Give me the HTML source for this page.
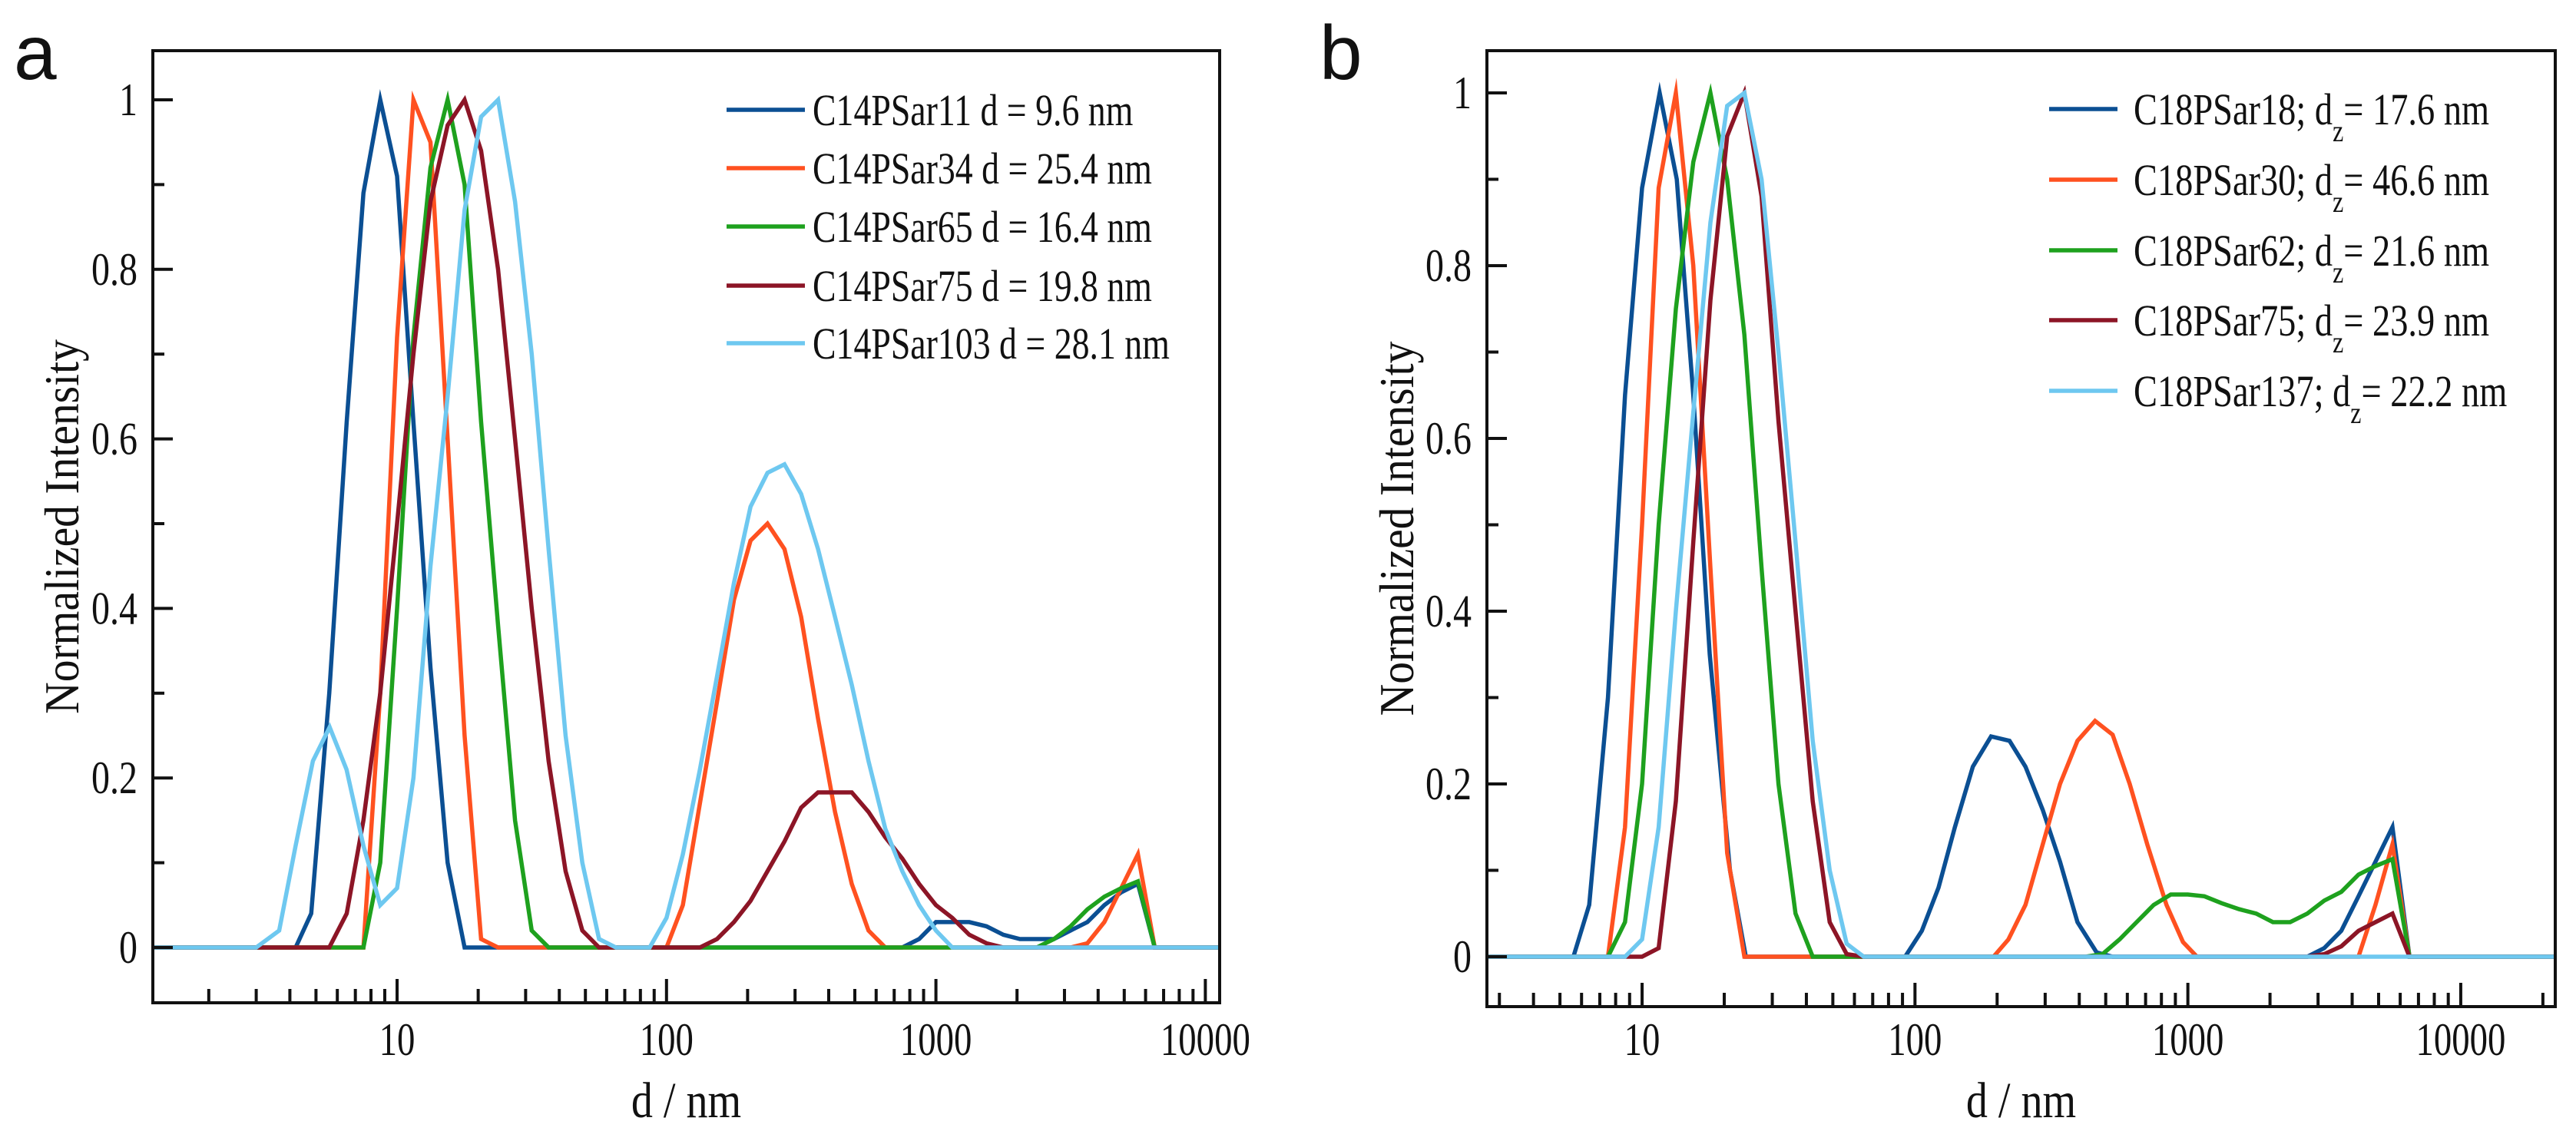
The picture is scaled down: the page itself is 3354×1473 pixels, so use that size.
<!DOCTYPE html>
<html><head><meta charset="utf-8"><style>
html,body{margin:0;padding:0;background:#fff;}
svg{display:block;}
text{font-family:"Liberation Serif",serif;fill:#111;}
text.sans{font-family:"Liberation Sans",sans-serif;}
</style></head><body>
<svg id="fig" width="3354" height="1473" viewBox="0 0 3354 1473" xmlns="http://www.w3.org/2000/svg"></svg>
<script>
// ---------- Panel a data ----------
const aBlueD=[1.2,4.2,4.8,5.6,6.5,7.5,8.66,10,11.5,13.3,15.4,17.8,750,866,1000,1150,1330,1540,1780,2050,2370,2740,3160,3650,4220,4870,5620,6490,11300];
const aBlueY=[0,0,0.04,0.3,0.62,0.89,1,0.91,0.62,0.33,0.1,0,0,0.01,0.03,0.03,0.03,0.025,0.015,0.01,0.01,0.01,0.02,0.03,0.05,0.065,0.075,0,0];
const aOrangeD=[1.2,7.5,8.66,10,11.5,13.3,15.4,17.8,20.5,23.7,100,115,133,154,178,205,237,274,316,365,422,487,562,649,3160,3650,4220,4870,5620,6490,11300];
const aOrangeY=[0,0,0.3,0.72,1,0.95,0.6,0.25,0.01,0,0,0.05,0.17,0.29,0.41,0.48,0.5,0.47,0.39,0.27,0.16,0.075,0.02,0,0,0.005,0.03,0.07,0.11,0,0];
const aGreenD=[1.2,7.5,8.66,10,11.5,13.3,15.4,17.8,20.5,23.7,27.4,31.6,36.5,2370,2740,3160,3650,4220,4870,5620,6490,11300];
const aGreenY=[0,0,0.1,0.4,0.72,0.92,1,0.9,0.62,0.38,0.15,0.02,0,0,0.01,0.025,0.045,0.06,0.07,0.078,0,0];
const aRedD=[1.2,5.6,6.5,7.5,8.66,10,11.5,13.3,15.4,17.8,20.5,23.7,27.4,31.6,36.5,42.2,48.7,56.2,133,154,178,205,237,274,316,365,422,487,562,649,750,866,1000,1150,1330,1540,1780,11300];
const aRedY=[0,0,0.04,0.15,0.3,0.5,0.7,0.88,0.97,1,0.94,0.8,0.6,0.4,0.22,0.09,0.02,0,0,0.01,0.03,0.055,0.09,0.125,0.165,0.183,0.183,0.183,0.16,0.13,0.105,0.075,0.05,0.035,0.015,0.005,0,0];
const aLightD=[1.2,3.0,3.65,4.2,4.87,5.62,6.49,7.5,8.66,10,11.5,13.3,15.4,17.8,20.5,23.7,27.4,31.6,36.5,42.2,48.7,56.2,64.9,86.6,100,115,133,154,178,205,237,274,316,365,422,487,562,649,750,866,1000,1150,11300];
const aLightY=[0,0,0.02,0.12,0.22,0.26,0.21,0.12,0.05,0.07,0.2,0.45,0.65,0.87,0.98,1,0.88,0.7,0.47,0.25,0.1,0.01,0,0,0.035,0.11,0.21,0.32,0.43,0.52,0.56,0.57,0.535,0.47,0.39,0.31,0.22,0.14,0.09,0.05,0.02,0,0];
// ---------- Panel b data ----------
const bBlueD=[2.7,5.6,6.4,7.5,8.66,10,11.6,13.4,15.4,17.7,21,24,92,106,122,140,163,190,222,254,294,340,394,463,530,2740,3160,3650,4220,4870,5620,6490,22200];
const bBlueY=[0,0,0.06,0.3,0.65,0.89,1,0.9,0.65,0.35,0.1,0,0,0.03,0.08,0.15,0.22,0.255,0.25,0.22,0.17,0.11,0.04,0.005,0,0,0.01,0.03,0.07,0.11,0.15,0,0];
const bOrangeD=[2.7,7.5,8.66,10,11.5,13.3,15.4,17.8,20.5,23.7,194,220,254,294,340,394,457,530,612,710,835,960,1080,4220,4870,5620,6490,22200];
const bOrangeY=[0,0,0.15,0.5,0.89,1,0.8,0.45,0.12,0,0,0.02,0.06,0.13,0.2,0.25,0.273,0.257,0.2,0.13,0.06,0.017,0,0,0.06,0.13,0,0];
const bGreenD=[2.7,7.5,8.66,10,11.5,13.3,15.4,17.8,20.5,23.7,27.4,31.6,36.5,42.2,422,487,562,649,750,866,1000,1150,1330,1540,1780,2050,2370,2740,3160,3650,4220,4870,5620,6490,22200];
const bGreenY=[0,0,0.04,0.2,0.5,0.75,0.92,1,0.9,0.72,0.45,0.2,0.05,0,0,0.003,0.02,0.04,0.06,0.072,0.072,0.07,0.062,0.055,0.05,0.04,0.04,0.05,0.065,0.075,0.095,0.105,0.113,0,0];
const bRedD=[2.7,8.66,10,11.5,13.3,15.4,17.8,20.5,23.7,27.4,31.6,36.5,42.2,48.7,56.2,64.9,2740,3160,3650,4220,4870,5620,6490,22200];
const bRedY=[0,0,0,0.01,0.18,0.48,0.76,0.95,1,0.88,0.62,0.4,0.18,0.04,0.003,0,0,0.003,0.012,0.03,0.04,0.05,0,0];
const bLightD=[2.7,8.66,10,11.5,13.3,15.4,17.8,20.5,23.7,27.4,31.6,36.5,42.2,48.7,56.2,64.9,22200];
const bLightY=[0,0,0.02,0.15,0.4,0.63,0.85,0.985,1,0.9,0.7,0.48,0.25,0.1,0.015,0,0];
// ---------- ticks / labels ----------
const yTicks=[0,0.2,0.4,0.6,0.8,1];
const yTickLabels=["0","0.2","0.4","0.6","0.8","1"];
const xMajor=[10,100,1000,10000];
const xMajorLabels=["10","100","1000","10000"];
const aLegend=["C14PSar11 d = 9.6 nm","C14PSar34 d = 25.4 nm","C14PSar65 d = 16.4 nm","C14PSar75 d = 19.8 nm","C14PSar103 d = 28.1 nm"];
const bLegendName=["C18PSar18;","C18PSar30;","C18PSar62;","C18PSar75;","C18PSar137;"];
const bLegendVal=["17.6 nm","46.6 nm","21.6 nm","23.9 nm","22.2 nm"];
const colors=["#0b4f93","#ff5120","#1ea11e","#8c1526","#6ec8f0"];

const NS="http://www.w3.org/2000/svg";
const svg=document.getElementById('fig');
function mk(tag,attrs,parent){const e=document.createElementNS(NS,tag);for(const k in attrs)e.setAttribute(k,attrs[k]);(parent||svg).appendChild(e);return e;}
function txt(parent,x,y,s,size,anchor,sx,name){
  const t=mk('text',{transform:`translate(${x},${y}) scale(${sx},1)`,'font-size':size,'text-anchor':anchor},parent);
  t.textContent=s;
  
  
  return t;
}

function panel(cfg){
  const g=mk('g',{});
  
  
  const L=cfg.left,R=cfg.right,T=cfg.top,B=cfg.bottom;
  const lx0=Math.log10(cfg.xmin),lx1=Math.log10(cfg.xmax);
  const X=d=>L+(Math.log10(d)-lx0)/(lx1-lx0)*(R-L);
  const Y=v=>cfg.y0+(cfg.y1-cfg.y0)*v;
  const cp=mk('clipPath',{id:cfg.id+'clip'},g);
  mk('rect',{x:L,y:T,width:R-L,height:B-T},cp);
  const sg=mk('g',{'clip-path':`url(#${cfg.id}clip)`},g);
  cfg.series.forEach((s,i)=>{
    const pts=s.d.map((d,j)=>X(d).toFixed(1)+','+Y(s.y[j]).toFixed(1)).join(' ');
    const p=mk('polyline',{points:pts,fill:'none',stroke:colors[i],'stroke-width':5.5,'stroke-linejoin':'miter','stroke-miterlimit':10},sg);
    
    
  });
  const fr=mk('rect',{x:L,y:T,width:R-L,height:B-T,fill:'none',stroke:'#111','stroke-width':4},g);
  
  
  for(let k=0;k<=10;k++){
    const v=k/10;const y=Y(v);
    const len=(k%2===0)?26:15;
    mk('line',{x1:L,x2:L+len,y1:y,y2:y,stroke:'#111','stroke-width':4},g);
  }
  yTicks.forEach((v,i)=>{txt(g,L-20,Y(v)+20,yTickLabels[i],60,'end',0.8,'y-tick-label');});
  for(let e=0;e<=5;e++){
    for(let m=1;m<=9;m++){
      const d=m*Math.pow(10,e);
      if(d<cfg.xmin||d>cfg.xmax)continue;
      const x=X(d);const len=(m===1)?31:18;
      mk('line',{x1:x,x2:x,y1:B,y2:B-len,stroke:'#111','stroke-width':4},g);
    }
  }
  xMajor.forEach((d,i)=>{txt(g,X(d),1374,xMajorLabels[i],60,'middle',0.78,'x-tick-label');});
  txt(g,(L+R)/2,1455,'d / nm',66,'middle',0.85,'x-axis-title');
  const yt=mk('text',{transform:`translate(${cfg.ytx},${(T+B)/2}) rotate(-90) scale(0.9,1)`,'font-size':64,'text-anchor':'middle'},g);
  yt.textContent='Normalized Intensity';
  
  
  const pl=mk('text',{x:cfg.letterX,y:103,'font-size':100,'class':'sans'},g);
  pl.textContent=cfg.letter;
  
  
  const lg=mk('g',{},g);
  
  
  cfg.legendRows.forEach((ry,i)=>{
    const e=mk('g',{},lg);
    
    
    mk('line',{x1:cfg.legX0,x2:cfg.legX1,y1:ry,y2:ry,stroke:colors[i],'stroke-width':5.5},e);
    cfg.legendText(e,i,cfg.legTx,ry+20);
  });
}

panel({name:'panel-a',id:'pa',left:199,right:1588,top:66,bottom:1306,xmin:1.24,xmax:11300,y0:1234,y1:130,ytx:102,
  letter:'a',letterX:18,
  series:[{name:'series-c14psar11',d:aBlueD,y:aBlueY},{name:'series-c14psar34',d:aOrangeD,y:aOrangeY},{name:'series-c14psar65',d:aGreenD,y:aGreenY},{name:'series-c14psar75',d:aRedD,y:aRedY},{name:'series-c14psar103',d:aLightD,y:aLightY}],
  legendRows:[143,219,295,372,447],legX0:946,legX1:1048,legTx:1058,
  legendText:(e,i,x,y)=>{txt(e,x,y,aLegend[i],58,'start',0.79,'legend-label');}
});
panel({name:'panel-b',id:'pb',left:1936,right:3327,top:66,bottom:1311,xmin:2.7,xmax:22200,y0:1246,y1:121,ytx:1840,
  letter:'b',letterX:1718,
  series:[{name:'series-c18psar18',d:bBlueD,y:bBlueY},{name:'series-c18psar30',d:bOrangeD,y:bOrangeY},{name:'series-c18psar62',d:bGreenD,y:bGreenY},{name:'series-c18psar75',d:bRedD,y:bRedY},{name:'series-c18psar137',d:bLightD,y:bLightY}],
  legendRows:[142,234,326,417,509],legX0:2668,legX1:2757,legTx:2778,
  legendText:(e,i,x,y)=>{
    const t=mk('text',{transform:`translate(${x},${y}) scale(0.8,1)`,'font-size':58},e);
    
    
    const a=mk('tspan',{},t);a.textContent=bLegendName[i]+' d';
    const z=mk('tspan',{'font-size':40,dy:22},t);z.textContent='z';
    const r=mk('tspan',{dy:-22},t);r.textContent='= '+bLegendVal[i];
  }
});
</script>
</body></html>
